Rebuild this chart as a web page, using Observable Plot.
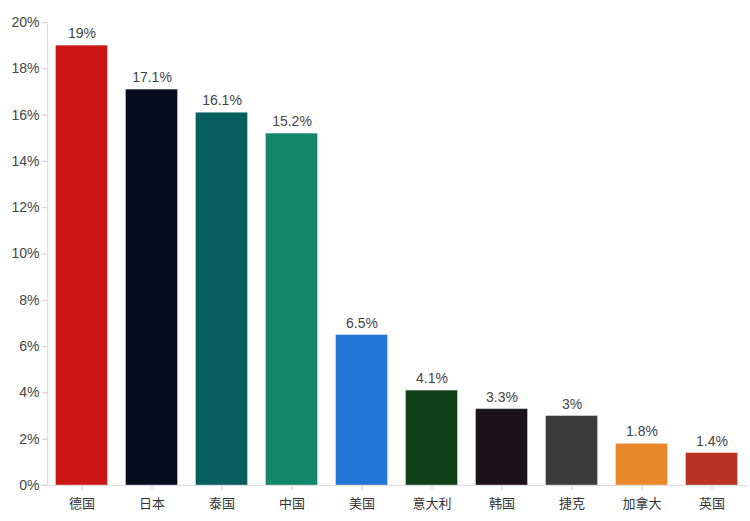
<!DOCTYPE html>
<html>
<head>
<meta charset="utf-8">
<script src="https://cdn.jsdelivr.net/npm/d3@7"></script>
<script src="https://cdn.jsdelivr.net/npm/@observablehq/plot@0.6"></script>
<style>
  html, body { margin: 0; padding: 0; background: #fff; }
  #chart svg { font-family: "Liberation Sans", "Noto Sans CJK SC", sans-serif; display: block; }
</style>
</head>
<body>
<div id="chart"></div>
<script>
const countries = ["德国", "日本", "泰国", "中国", "美国", "意大利", "韩国", "捷克", "加拿大", "英国"];
const shares = [19, 17.1, 16.1, 15.2, 6.5, 4.1, 3.3, 3, 1.8, 1.4];
const colors = ["#cc1616", "#070d21", "#065e5e", "#12876c", "#2276d6", "#0f4219", "#1c121a", "#3c3c3c", "#e8882a", "#b83224"];
const yTicks = [0, 2, 4, 6, 8, 10, 12, 14, 16, 18, 20];

const data = countries.map((c, i) => ({country: c, value: shares[i], color: colors[i]}));

const chart = Plot.plot({
  width: 750,
  height: 521,
  marginLeft: 47,
  marginRight: 3,
  marginTop: 22,
  marginBottom: 36,
  style: {fontSize: "13px", color: "#444", background: "#fff"},
  x: {domain: countries, paddingInner: 0.24, paddingOuter: 0.12, label: null},
  y: {domain: [0, 20], label: null},
  marks: [
    Plot.barY(data, {x: "country", y: "value", fill: "color", stroke: "#fff", strokeOpacity: 0.35, strokeWidth: 1, insetLeft: 0.5, insetRight: 0.5}),
    Plot.text(data, {x: "country", y: "value", text: d => d.value + "%", dy: -12, fill: "#444", fontSize: 14}),
    Plot.axisY({ticks: yTicks, tickFormat: d => d + "%", tickSize: 5, tickPadding: 3, stroke: "#ccc", fill: "#444", fontSize: 14, label: null}),
    Plot.axisX({tickSize: 5, tickPadding: 8, stroke: "#ccc", fill: "#333", fontSize: 13, label: null}),
    Plot.frame({anchor: "left", stroke: "#ddd"}),
    Plot.ruleY([0], {stroke: "#ddd"})
  ]
});
document.getElementById("chart").appendChild(chart);
</script>
</body>
</html>
